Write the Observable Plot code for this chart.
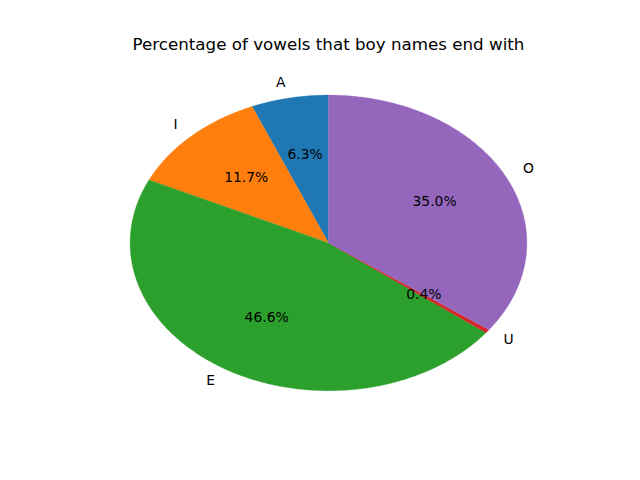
<!DOCTYPE html>
<html><head><meta charset="utf-8">
<script src="https://cdn.jsdelivr.net/npm/d3@7"></script>
<script src="https://cdn.jsdelivr.net/npm/@observablehq/plot@0.6"></script>
<style>body{margin:0;background:#fff}</style>
</head><body><div id="chart"></div>
<script>
const labels = ["A", "I", "E", "U", "O"];
const percents = [6.3, 11.7, 46.6, 0.4, 35.0];
const colors = ["#1f77b4", "#ff7f0e", "#2ca02c", "#d62728", "#9467bd"];
const title = "Percentage of vowels that boy names end with";

// build wedge polygons (matplotlib style: start at 90°, counterclockwise)
const total = d3.sum(percents);
const wedges = [], labelPts = [], pctPts = [];
let start = 90;
labels.forEach((lab, i) => {
  const sweep = percents[i] / total * 360;
  const end = start + sweep;
  const n = Math.max(2, Math.ceil(sweep / 0.5));
  wedges.push({label: lab, x: 0, y: 0});
  for (let k = 0; k <= n; k++) {
    const a = (start + sweep * k / n) * Math.PI / 180;
    wedges.push({label: lab, x: Math.cos(a), y: Math.sin(a)});
  }
  wedges.push({label: lab, x: 0, y: 0});
  const mid = (start + end) / 2 * Math.PI / 180;
  const lx = 1.1 * Math.cos(mid), ly = 1.1 * Math.sin(mid);
  labelPts.push({label: lab, x: lx, y: ly, side: lx > 0 ? "left" : "right"});
  pctPts.push({text: percents[i].toFixed(1) + "%", x: 0.6 * Math.cos(mid), y: 0.6 * Math.sin(mid)});
  start = end;
});

const chart = Plot.plot({
  width: 640, height: 480,
  marginLeft: 80, marginRight: 64, marginTop: 57.6, marginBottom: 52.8,
  x: {domain: [-1.25, 1.25], axis: null},
  y: {domain: [-1.25, 1.25], axis: null},
  color: {domain: labels, range: colors},
  style: {fontFamily: "DejaVu Sans", background: "#fff"},
  marks: [
    Plot.line(wedges, {x: "x", y: "y", z: "label", fill: "label", stroke: "label", strokeWidth: 0.3, curve: "linear"}),
    Plot.text(labelPts.filter(d => d.side === "left"), {x: "x", y: "y", text: "label", textAnchor: "start", dy: -1, fontSize: 13.9, fill: "black"}),
    Plot.text(labelPts.filter(d => d.side === "right"), {x: "x", y: "y", text: "label", textAnchor: "end", dy: -1, fontSize: 13.9, fill: "black"}),
    Plot.text(pctPts, {x: "x", y: "y", text: "text", dy: -1, fontSize: 13.9, fill: "black"}),
    Plot.text([title], {frameAnchor: "top", dy: -20, text: d => d, fontSize: 16.7, fill: "black"})
  ]
});
document.getElementById("chart").appendChild(chart);
</script></body></html>
